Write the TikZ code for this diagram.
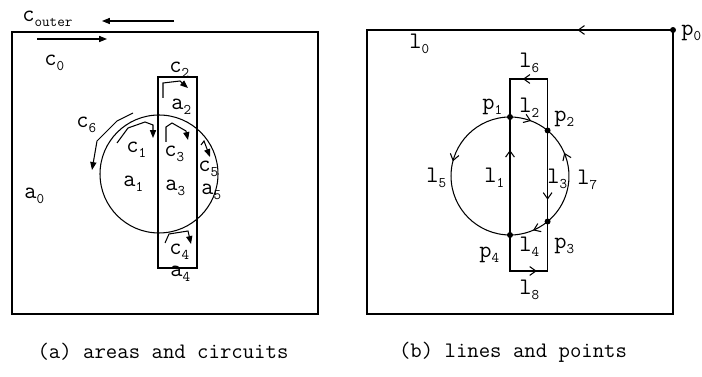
\documentclass[tikz,border=0pt]{standalone}
\usepackage{tikz}
\usetikzlibrary{arrows.meta,decorations.markings}
\newcommand{\sbs}[2]{\texttt{#1}\raisebox{-.45ex}{\scalebox{.62}{\texttt{#2}}}}
\tikzset{
    lbl/.style={anchor=base west,inner sep=0pt,font=\ttfamily\fontsize{13.5}{13.5}\selectfont},
    captext/.style={inner sep=0pt,font=\ttfamily\fontsize{12.6}{12.6}\selectfont},
    frame/.style={line width=.7pt},
    circuit/.style={line width=.6pt,-{Triangle[length=4.5pt,width=3.5pt]}},
    barb/.style={line width=.6pt,postaction={decorate},
        decoration={markings,mark=at position #1 with {\arrow{Straight Barb[length=3.5pt,width=5pt]}}}},
    dotmark/.style={radius=1.7pt}
}
\begin{document}
\begin{tikzpicture}[x=0.02cm,y=-0.02cm]
\useasboundingbox (0,0) rectangle (702,377);
\draw[frame] (12,32) rectangle (318,314);
\draw[line width=.6pt] (158,77) rectangle (197,268);
\draw[line width=.6pt] (159,174) circle[radius=1.18cm];
\draw[circuit] (174,21) -- (102,21);
\draw[circuit] (37,39) -- (107,39);
\draw[circuit] (133,113) -- (117,121) -- (97,141) -- (92,170);
\draw[circuit] (117,143) -- (128,128) -- (145,122) -- (153,125) -- (153,138);
\draw[circuit] (163,98) -- (163,83) -- (180,81) -- (188,88);
\draw[circuit] (166,142) -- (166,127) -- (172,123) -- (186,131) -- (188,140);
\draw[circuit] (201,145) -- (204,141) -- (210,157);
\draw[circuit] (165,243) -- (169,234) -- (188,231) -- (191,244);
\foreach \nm/\x/\y/\t/\s in {couter/22/22/c/outer, c0/44/66/c/0, c2/169/73/c/2, a2/171/110/a/2,
    c6/76/128/c/6, c1/126/153/c/1, c3/164/157/c/3, c5/198/172/c/5, a1/123/187/a/1,
    a3/165/191/a/3, a5/201/195/a/5, a0/24/199/a/0, c4/169/255/c/4, a4/170/277/a/4}
    \node[lbl] (\nm) at (\x,\y) {\sbs{\t}{\s}};
\node[captext] (capa) at (163,352) {(a) areas and circuits};
\coordinate (p0) at (673,30);
\coordinate (k1) at (367,30);
\coordinate (k2) at (367,314);
\coordinate (k3) at (673,314);
\coordinate (p1) at (510,117);
\coordinate (p2) at (547.6,130.5);
\coordinate (p3) at (547.6,221.5);
\coordinate (p4) at (510,235);
\coordinate (q1) at (510,79);
\coordinate (q2) at (547.6,79);
\coordinate (q3) at (547.6,271);
\coordinate (q4) at (510,271);
\draw[barb=0.081] (p0) -- (k1) -- (k2) -- (k3) -- (p0);
\draw[barb=0.6] (p2) -- (q2) -- (q1) -- (p1);
\draw[barb=0.51] (p4) -- (q4) -- (q3) -- (p3);
\draw[barb=0.72] (p4) -- (p1);
\draw[barb=0.76] (p2) -- (p3);
\draw[barb=0.53] (p1) arc[start angle=90,end angle=50.4,radius=1.18cm];
\draw[barb=0.73] (p3) arc[start angle=-50.4,end angle=50.4,radius=1.18cm];
\draw[barb=0.42] (p3) arc[start angle=-50.4,end angle=-90,radius=1.18cm];
\draw[barb=0.42] (p1) arc[start angle=90,end angle=270,radius=1.18cm];
\foreach \p in {p0,p1,p2,p3,p4}
    \fill (\p) circle[dotmark];
\foreach \nm/\x/\y/\t/\s in {l0/409/49/l/0, pp0/681/36/p/0, l6/519/68/l/6, pp1/482/110/p/1,
    l2/519/113/l/2, pp2/554/122/p/2, l5/426/183/l/5, l1/484/183/l/1, l3/547/184/l/3,
    l7/577/185/l/7, l4/519/252/l/4, pp4/479/258/p/4, pp3/554/249/p/3, l8/519/295/l/8}
    \node[lbl] (\nm) at (\x,\y) {\sbs{\t}{\s}};
\node[captext] (capb) at (513,352) {(b) lines and points};
\end{tikzpicture}
\end{document}
